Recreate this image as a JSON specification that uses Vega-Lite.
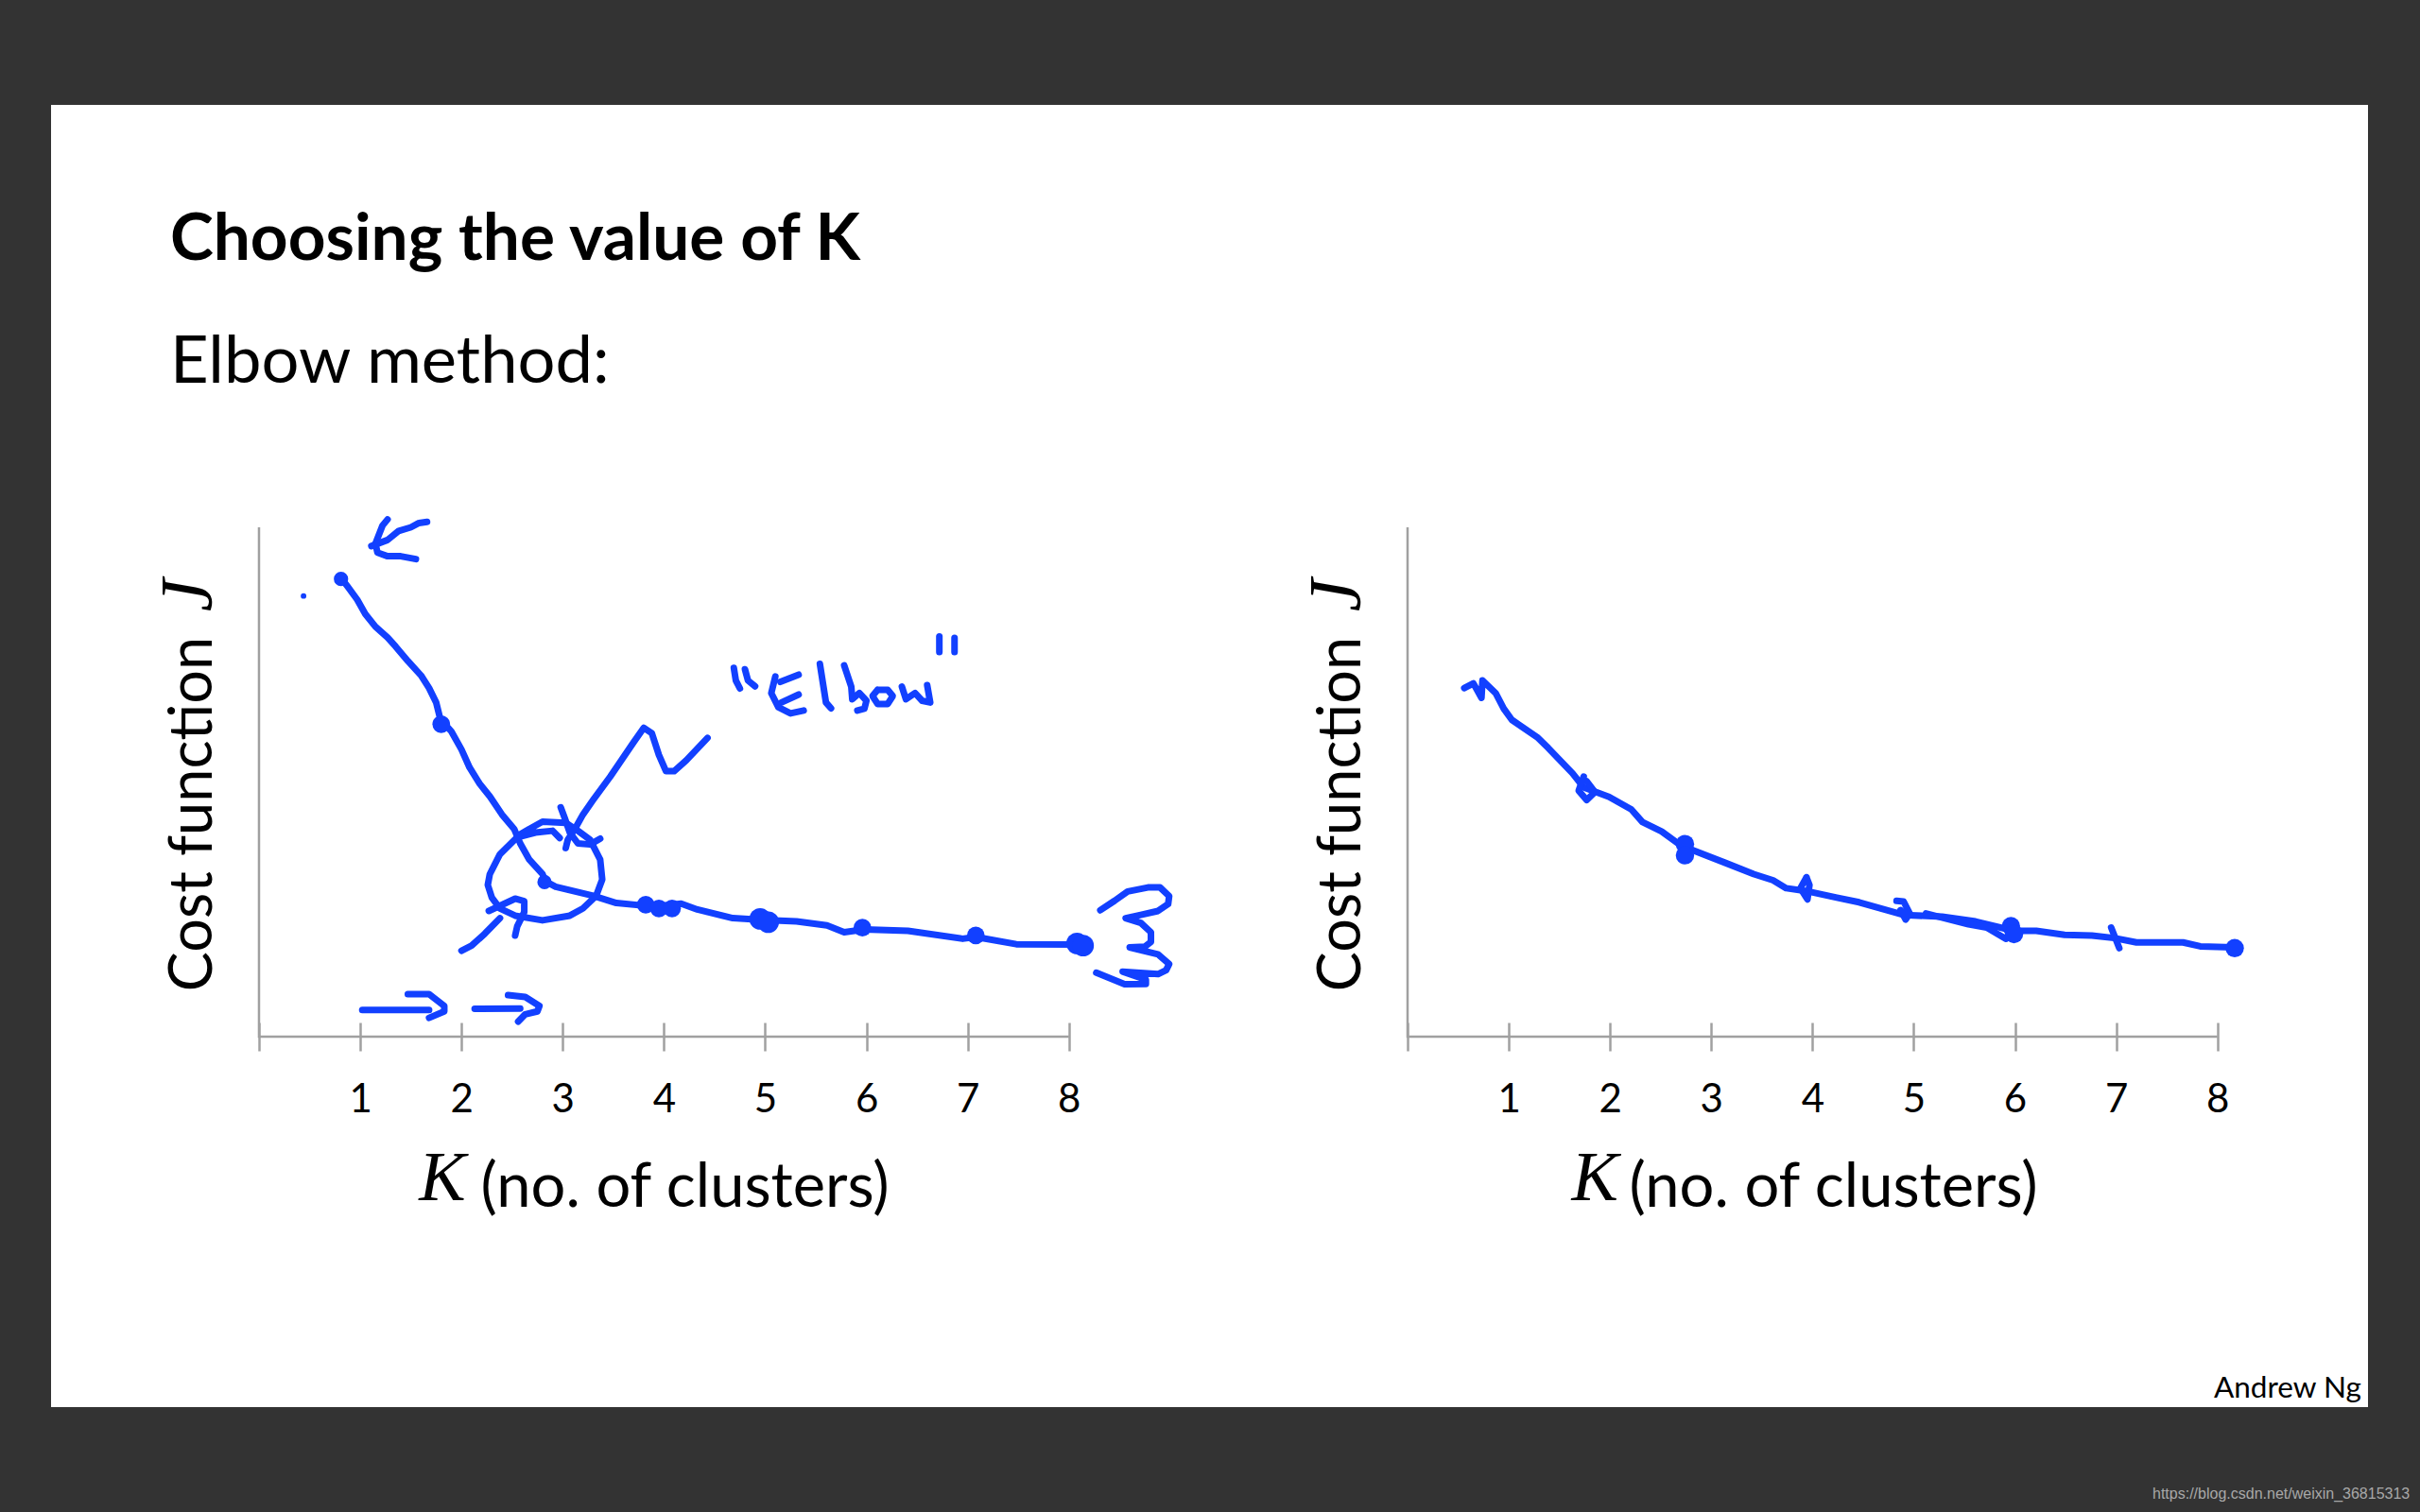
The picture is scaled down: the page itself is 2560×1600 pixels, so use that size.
{
"$schema":"https://vega.github.io/schema/vega-lite/v6.json",
"background":"#333333",
"padding":{"left":54,"top":111,"right":13,"bottom":12},
"spacing":0,
"config":{"view":{"fill":"#ffffff","stroke":null},"font":"Lato","concat":{"spacing":0},
"axisX":{"domain":false,"grid":false,"tickSize":30,"tickColor":"#a0a0a0","tickWidth":2.5,"labelFont":"Lato","labelFontSize":42,"labelColor":"#000000","labelPadding":31,"titleFont":"Lato","titleFontSize":65,"titleFontWeight":"normal","titleColor":"#000000","titleBaseline":"alphabetic"},
"axisY":{"domain":false,"grid":false,"ticks":false,"labels":false,"titleFont":"Lato","titleFontSize":63,"titleFontWeight":"normal","titleColor":"#000000","titleBaseline":"alphabetic","titleAlign":"center"}
},
"datasets":{
"frame":[{"K":0,"J":1410},{"K":0,"J":0},{"K":8,"J":0}],
"leftStrokes":[
{"s":"curve","K":0.81,"J":1270},{"s":"curve","K":0.87,"J":1248},{"s":"curve","K":0.97,"J":1210},{"s":"curve","K":1.05,"J":1170},{"s":"curve","K":1.15,"J":1135},{"s":"curve","K":1.27,"J":1105},{"s":"curve","K":1.35,"J":1080},{"s":"curve","K":1.47,"J":1040},{"s":"curve","K":1.6,"J":1000},{"s":"curve","K":1.68,"J":965},{"s":"curve","K":1.75,"J":925},{"s":"curve","K":1.79,"J":880},{"s":"curve","K":1.9,"J":845},{"s":"curve","K":2.0,"J":795},{"s":"curve","K":2.08,"J":745},{"s":"curve","K":2.18,"J":700},{"s":"curve","K":2.28,"J":665},{"s":"curve","K":2.4,"J":615},{"s":"curve","K":2.52,"J":575},{"s":"curve","K":2.58,"J":535},{"s":"curve","K":2.67,"J":490},{"s":"curve","K":2.8,"J":450},{"s":"curve","K":2.83,"J":430},{"s":"curve","K":2.93,"J":415},{"s":"curve","K":3.3,"J":390},{"s":"curve","K":3.53,"J":370},{"s":"curve","K":3.9,"J":360},{"s":"curve","K":4.17,"J":368},{"s":"curve","K":4.33,"J":352},{"s":"curve","K":4.68,"J":328},{"s":"curve","K":4.98,"J":323},{"s":"curve","K":5.31,"J":319},{"s":"curve","K":5.61,"J":308},{"s":"curve","K":5.78,"J":289},{"s":"curve","K":5.98,"J":297},{"s":"curve","K":6.41,"J":293},{"s":"curve","K":6.95,"J":271},{"s":"curve","K":7.08,"J":276},{"s":"curve","K":7.48,"J":256},{"s":"curve","K":8.11,"J":255},
{"s":"arrowA1","K":1.27,"J":1432},{"s":"arrowA1","K":1.22,"J":1415},{"s":"arrowA1","K":1.15,"J":1365},{"s":"arrowA1","K":1.17,"J":1340},{"s":"arrowA1","K":1.27,"J":1330},{"s":"arrowA1","K":1.4,"J":1330},{"s":"arrowA1","K":1.55,"J":1322},
{"s":"arrowA2","K":1.11,"J":1358},{"s":"arrowA2","K":1.27,"J":1375},{"s":"arrowA2","K":1.38,"J":1400},{"s":"arrowA2","K":1.5,"J":1410},{"s":"arrowA2","K":1.58,"J":1422},{"s":"arrowA2","K":1.66,"J":1425},
{"s":"circle","K":2.97,"J":550},{"s":"circle","K":2.9,"J":570},{"s":"circle","K":2.73,"J":565},{"s":"circle","K":2.55,"J":552},{"s":"circle","K":2.38,"J":505},{"s":"circle","K":2.28,"J":450},{"s":"circle","K":2.26,"J":420},{"s":"circle","K":2.3,"J":385},{"s":"circle","K":2.38,"J":355},{"s":"circle","K":2.53,"J":335},{"s":"circle","K":2.8,"J":322},{"s":"circle","K":3.07,"J":335},{"s":"circle","K":3.2,"J":355},{"s":"circle","K":3.33,"J":390},{"s":"circle","K":3.39,"J":435},{"s":"circle","K":3.37,"J":490},{"s":"circle","K":3.27,"J":545},{"s":"circle","K":3.15,"J":570},{"s":"circle","K":3.03,"J":592},{"s":"circle","K":2.8,"J":595},{"s":"circle","K":2.67,"J":575},{"s":"circle","K":2.55,"J":555},
{"s":"hook","K":2.98,"J":635},{"s":"hook","K":3.02,"J":605},{"s":"hook","K":3.07,"J":565},{"s":"hook","K":3.15,"J":535},{"s":"hook","K":3.27,"J":532},{"s":"hook","K":3.37,"J":548},
{"s":"pointer","K":3.03,"J":522},{"s":"pointer","K":3.05,"J":545},{"s":"pointer","K":3.12,"J":575},{"s":"pointer","K":3.2,"J":615},{"s":"pointer","K":3.3,"J":655},{"s":"pointer","K":3.47,"J":720},{"s":"pointer","K":3.7,"J":815},{"s":"pointer","K":3.8,"J":855},{"s":"pointer","K":3.88,"J":840},{"s":"pointer","K":3.95,"J":780},{"s":"pointer","K":4.02,"J":735},{"s":"pointer","K":4.1,"J":735},{"s":"pointer","K":4.22,"J":765},{"s":"pointer","K":4.43,"J":827},
{"s":"lowerA","K":2.0,"J":238},{"s":"lowerA","K":2.1,"J":252},{"s":"lowerA","K":2.23,"J":285},{"s":"lowerA","K":2.38,"J":328},
{"s":"lowerB","K":2.27,"J":348},{"s":"lowerB","K":2.4,"J":365},{"s":"lowerB","K":2.53,"J":382},{"s":"lowerB","K":2.62,"J":375},{"s":"lowerB","K":2.62,"J":345},{"s":"lowerB","K":2.55,"J":305},{"s":"lowerB","K":2.53,"J":280},
{"s":"shaft1","K":1.02,"J":74},{"s":"shaft1","K":1.68,"J":74},
{"s":"head1","K":1.47,"J":118},{"s":"head1","K":1.68,"J":118},{"s":"head1","K":1.83,"J":85},{"s":"head1","K":1.83,"J":70},{"s":"head1","K":1.68,"J":52},
{"s":"shaft2","K":2.13,"J":77},{"s":"shaft2","K":2.58,"J":78},
{"s":"head2","K":2.46,"J":115},{"s":"head2","K":2.63,"J":110},{"s":"head2","K":2.77,"J":85},{"s":"head2","K":2.75,"J":70},{"s":"head2","K":2.63,"J":62},{"s":"head2","K":2.56,"J":42},
{"s":"three","K":8.31,"J":350},{"s":"three","K":8.45,"J":376},{"s":"three","K":8.58,"J":402},{"s":"three","K":8.78,"J":413},{"s":"three","K":8.9,"J":413},{"s":"three","K":8.99,"J":389},{"s":"three","K":8.98,"J":367},{"s":"three","K":8.88,"J":348},{"s":"three","K":8.71,"J":337},{"s":"three","K":8.56,"J":328},{"s":"three","K":8.71,"J":315},{"s":"three","K":8.81,"J":289},{"s":"three","K":8.81,"J":262},{"s":"three","K":8.75,"J":249},{"s":"three","K":8.6,"J":247},{"s":"three","K":8.88,"J":228},{"s":"three","K":8.99,"J":201},{"s":"three","K":8.96,"J":184},{"s":"three","K":8.88,"J":173},{"s":"three","K":8.53,"J":180},{"s":"three","K":8.76,"J":158},{"s":"three","K":8.76,"J":146},{"s":"three","K":8.55,"J":145},{"s":"three","K":8.27,"J":177},
{"s":"q1","K":4.69,"J":1021},{"s":"q1","K":4.71,"J":986},{"s":"q1","K":4.75,"J":964},
{"s":"q2","K":4.8,"J":1017},{"s":"q2","K":4.83,"J":986},{"s":"q2","K":4.9,"J":970},
{"s":"E1","K":5.1,"J":997},{"s":"E1","K":5.06,"J":951},{"s":"E1","K":5.13,"J":912},{"s":"E1","K":5.25,"J":895},{"s":"E1","K":5.38,"J":903},
{"s":"E2","K":5.15,"J":982},{"s":"E2","K":5.33,"J":1002},
{"s":"E3","K":5.16,"J":925},{"s":"E3","K":5.33,"J":947},
{"s":"l","K":5.54,"J":1032},{"s":"l","K":5.6,"J":925},{"s":"l","K":5.65,"J":909},
{"s":"h","K":5.78,"J":1028},{"s":"h","K":5.85,"J":969},{"s":"h","K":5.86,"J":934},{"s":"h","K":5.93,"J":951},{"s":"h","K":6.0,"J":930},{"s":"h","K":5.98,"J":908},{"s":"h","K":5.91,"J":903},
{"s":"o","K":6.11,"J":960},{"s":"o","K":6.06,"J":943},{"s":"o","K":6.11,"J":921},{"s":"o","K":6.21,"J":921},{"s":"o","K":6.26,"J":943},{"s":"o","K":6.21,"J":960},{"s":"o","K":6.11,"J":960},
{"s":"w","K":6.35,"J":969},{"s":"w","K":6.39,"J":934},{"s":"w","K":6.48,"J":951},{"s":"w","K":6.55,"J":930},{"s":"w","K":6.63,"J":925},{"s":"w","K":6.6,"J":973},
{"s":"q3","K":6.72,"J":1108},{"s":"q3","K":6.72,"J":1065},
{"s":"q4","K":6.87,"J":1104},{"s":"q4","K":6.87,"J":1065}
],
"rightStrokes":[
{"s":"curve","K":0.56,"J":965},{"s":"curve","K":0.65,"J":978},{"s":"curve","K":0.73,"J":938},{"s":"curve","K":0.74,"J":986},{"s":"curve","K":0.87,"J":951},{"s":"curve","K":0.95,"J":908},{"s":"curve","K":1.03,"J":877},{"s":"curve","K":1.28,"J":829},{"s":"curve","K":1.39,"J":799},{"s":"curve","K":1.63,"J":729},{"s":"curve","K":1.74,"J":690},{"s":"curve","K":1.99,"J":664},{"s":"curve","K":2.21,"J":629},{"s":"curve","K":2.32,"J":594},{"s":"curve","K":2.51,"J":568},{"s":"curve","K":2.7,"J":529},{"s":"curve","K":3.14,"J":481},{"s":"curve","K":3.42,"J":450},{"s":"curve","K":3.61,"J":433},{"s":"curve","K":3.74,"J":411},{"s":"curve","K":3.96,"J":402},{"s":"curve","K":4.24,"J":385},{"s":"curve","K":4.46,"J":372},{"s":"curve","K":4.9,"J":337},{"s":"curve","K":5.28,"J":332},{"s":"curve","K":5.61,"J":319},{"s":"curve","K":5.99,"J":293},{"s":"curve","K":6.21,"J":293},{"s":"curve","K":6.49,"J":282},{"s":"curve","K":6.76,"J":280},{"s":"curve","K":6.98,"J":273},{"s":"curve","K":7.2,"J":261},{"s":"curve","K":7.66,"J":261},{"s":"curve","K":7.83,"J":250},{"s":"curve","K":8.16,"J":247},
{"s":"loop2","K":1.74,"J":720},{"s":"loop2","K":1.69,"J":681},{"s":"loop2","K":1.77,"J":655},{"s":"loop2","K":1.85,"J":677},{"s":"loop2","K":1.77,"J":707},
{"s":"loop4","K":3.94,"J":441},{"s":"loop4","K":3.88,"J":411},{"s":"loop4","K":3.95,"J":380},{"s":"loop4","K":3.97,"J":420},{"s":"loop4","K":3.94,"J":441},
{"s":"loop5","K":4.83,"J":376},{"s":"loop5","K":4.9,"J":374},{"s":"loop5","K":4.96,"J":341},{"s":"loop5","K":4.92,"J":324},{"s":"loop5","K":4.87,"J":350},
{"s":"under6","K":5.12,"J":341},{"s":"under6","K":5.54,"J":311},{"s":"under6","K":5.72,"J":302},{"s":"under6","K":5.91,"J":271},
{"s":"tick7","K":6.95,"J":302},{"s":"tick7","K":7.03,"J":245}
]
},
"hconcat":[
{"width":1228,"height":1378,
"encoding":{
"x":{"field":"K","type":"quantitative","scale":{"domain":[-2.054,9.412],"nice":false,"zero":false},"axis":{"values":[0,1,2,3,4,5,6,7,8],"format":"d","labelExpr":"datum.value==0?'':datum.label","offset":-407,"title":"(no. of clusters)","titleX":670,"titleY":194}},
"y":{"field":"J","type":"quantitative","scale":{"domain":[-1025.5,2579.4],"nice":false,"zero":false},"axis":{"offset":-220,"title":"Cost function","titleX":-51,"titleY":750}}
},
"layer":[
{"data":{"name":"frame"},"mark":{"type":"line","color":"#a0a0a0","strokeWidth":2.5,"strokeCap":"butt"},"encoding":{"order":{"value":null}}},
{"data":{"name":"leftStrokes"},"mark":{"type":"line","color":"#1240ff","strokeWidth":7,"strokeCap":"round","strokeJoin":"round"},"encoding":{"detail":{"field":"s"},"order":{"value":null}}},
{"data":{"values":[{"K":0.44,"J":1220}]},"mark":{"type":"circle","color":"#1240ff","opacity":1,"size":35},"encoding":{}},
{"data":{"values":[{"K":0.81,"J":1267},{"K":2.82,"J":428}]},"mark":{"type":"circle","color":"#1240ff","opacity":1,"size":230},"encoding":{}},
{"data":{"values":[{"K":1.8,"J":865},{"K":3.82,"J":365},{"K":3.95,"J":355},{"K":4.08,"J":355},{"K":5.96,"J":302},{"K":7.08,"J":280}]},"mark":{"type":"circle","color":"#1240ff","opacity":1,"size":350},"encoding":{}},
{"data":{"values":[{"K":4.95,"J":326},{"K":5.03,"J":317},{"K":8.08,"J":258},{"K":8.14,"J":252}]},"mark":{"type":"circle","color":"#1240ff","opacity":1,"size":520},"encoding":{}},
{"data":{"values":[{"K":-0.878,"J":2150,"label":"Choosing the value of K"}]},"mark":{"type":"text","font":"Lato","fontWeight":"bold","fontSize":69.3,"align":"left","baseline":"alphabetic","color":"#000000"},"encoding":{"text":{"field":"label"}}},
{"data":{"values":[{"K":-0.878,"J":1810,"label":"Elbow method:"}]},"mark":{"type":"text","font":"Lato","fontSize":70.5,"align":"left","baseline":"alphabetic","color":"#000000"},"encoding":{"text":{"field":"label"}}},
{"data":{"values":[{"K":1.58,"J":-452,"label":"K"}]},"mark":{"type":"text","font":"Liberation Serif","fontStyle":"italic","fontSize":74,"align":"left","baseline":"alphabetic","color":"#000000"},"encoding":{"text":{"field":"label"}}},
{"data":{"values":[{"K":-0.476,"J":1222,"label":"J"}]},"mark":{"type":"text","font":"Liberation Serif","fontStyle":"italic","fontSize":78,"angle":270,"align":"center","baseline":"alphabetic","color":"#000000"},"encoding":{"text":{"field":"label"}}}
]},
{"width":1223,"height":1378,
"encoding":{
"x":{"field":"K","type":"quantitative","scale":{"domain":[-1.9328,9.487],"nice":false,"zero":false},"axis":{"values":[0,1,2,3,4,5,6,7,8],"format":"d","labelExpr":"datum.value==0?'':datum.label","offset":-407,"title":"(no. of clusters)","titleX":657,"titleY":194}},
"y":{"field":"J","type":"quantitative","scale":{"domain":[-1025.5,2579.4],"nice":false,"zero":false},"axis":{"offset":-207,"title":"Cost function","titleX":-51,"titleY":750}}
},
"layer":[
{"data":{"name":"frame"},"mark":{"type":"line","color":"#a0a0a0","strokeWidth":2.5,"strokeCap":"butt"},"encoding":{"order":{"value":null}}},
{"data":{"name":"rightStrokes"},"mark":{"type":"line","color":"#1240ff","strokeWidth":7,"strokeCap":"round","strokeJoin":"round"},"encoding":{"detail":{"field":"s"},"order":{"value":null}}},
{"data":{"values":[{"K":2.74,"J":533},{"K":2.74,"J":502},{"K":5.96,"J":306},{"K":5.99,"J":284},{"K":8.17,"J":245}]},"mark":{"type":"circle","color":"#1240ff","opacity":1,"size":380},"encoding":{}},
{"data":{"values":[{"K":1.62,"J":-452,"label":"K"}]},"mark":{"type":"text","font":"Liberation Serif","fontStyle":"italic","fontSize":74,"align":"left","baseline":"alphabetic","color":"#000000"},"encoding":{"text":{"field":"label"}}},
{"data":{"values":[{"K":-0.476,"J":1222,"label":"J"}]},"mark":{"type":"text","font":"Liberation Serif","fontStyle":"italic","fontSize":78,"angle":270,"align":"center","baseline":"alphabetic","color":"#000000"},"encoding":{"text":{"field":"label"}}},
{"data":{"values":[{"K":9.42,"J":-999,"label":"Andrew Ng"}]},"mark":{"type":"text","font":"Lato","fontSize":31.5,"align":"right","baseline":"alphabetic","color":"#000000"},"encoding":{"text":{"field":"label"}}},
{"data":{"values":[{"K":9.9,"J":-1279,"label":"https://blog.csdn.net/weixin_36815313"}]},"mark":{"type":"text","font":"Liberation Sans","fontSize":16,"align":"right","baseline":"alphabetic","color":"#a8a8a8"},"encoding":{"text":{"field":"label"}}}
]}
]
}
